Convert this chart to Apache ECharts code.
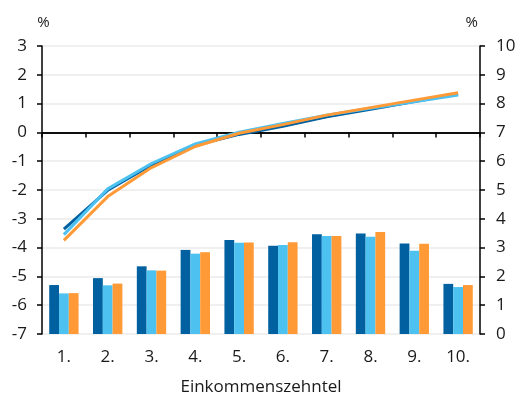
<!DOCTYPE html>
<html>
<head>
<meta charset="utf-8">
<script src="https://cdn.jsdelivr.net/npm/echarts@6/dist/echarts.min.js"></script>
<style>html,body{margin:0;padding:0;background:#fff}#c{width:521px;height:397px}</style>
</head>
<body>
<div id="c"></div>
<script>
const categories = ['1.','2.','3.','4.','5.','6.','7.','8.','9.','10.'];
// Bars (right axis, %)
const barsA = [1.70, 1.94, 2.35, 2.92, 3.26, 3.06, 3.46, 3.49, 3.14, 1.74];
const barsB = [1.41, 1.69, 2.21, 2.79, 3.17, 3.09, 3.40, 3.38, 2.89, 1.63];
const barsC = [1.42, 1.75, 2.20, 2.84, 3.18, 3.19, 3.40, 3.54, 3.13, 1.70];
// Lines (left axis, %)
const lineA = [-3.36, -2.01, -1.13, -0.45, -0.07, 0.21, 0.54, 0.80, 1.07, 1.34];
const lineB = [-3.55, -1.96, -1.08, -0.40, 0.01, 0.31, 0.60, 0.84, 1.06, 1.30];
const lineC = [-3.75, -2.23, -1.22, -0.49, -0.03, 0.27, 0.60, 0.86, 1.12, 1.38];
const leftTicks = {min: -7, max: 3, interval: 1};
const rightTicks = {min: 0, max: 10, interval: 1};

const colors = ['#0060A0', '#4DC1F0', '#FF9A36'];
const font = 'Open Sans';
const txt = '#1a1a1a';
const chart = echarts.init(document.getElementById('c'));
const barSeries = [barsA, barsB, barsC].map((d, i) => ({
  type: 'bar', yAxisIndex: 1, data: d, barGap: '0%', barCategoryGap: '33%',
  itemStyle: {color: colors[i]}, z: 2
}));
const lineSeries = [lineA, lineB, lineC].map((d, i) => ({
  type: 'line', yAxisIndex: 0, data: d, symbol: 'none',
  lineStyle: {color: colors[i], width: 3}, z: 5 + i
}));
lineSeries[0].markLine = {
  silent: true, symbol: 'none', label: {show: false},
  lineStyle: {color: '#000', width: 1.5, type: 'solid'},
  data: [{yAxis: 0}]
};
chart.setOption({
  animation: false,
  grid: {left: 42, right: 41, top: 46, bottom: 63, containLabel: false, outerBoundsMode: 'none'},
  xAxis: {
    type: 'category', data: categories,
    axisLine: {lineStyle: {color: '#000', width: 1.5}},
    axisTick: {show: true, length: 5, lineStyle: {color: '#000', width: 1.5}},
    axisLabel: {color: txt, fontSize: 17, fontFamily: font, margin: 15},
    name: 'Einkommenszehntel', nameLocation: 'middle', nameGap: 45,
    nameTextStyle: {color: txt, fontSize: 17, fontFamily: font}
  },
  yAxis: [
    {
      type: 'value', position: 'left', ...leftTicks,
      name: '%', nameLocation: 'end', nameGap: 16,
      nameTextStyle: {color: txt, fontSize: 15, fontFamily: font, align: 'center', padding: [0, 0, 0, 3]},
      axisLine: {show: true, lineStyle: {color: '#000', width: 1.5}},
      axisTick: {show: true, length: 5, lineStyle: {color: '#000', width: 1.5}},
      axisLabel: {color: txt, fontSize: 17, fontFamily: font, margin: 15},
      splitLine: {show: true, lineStyle: {color: '#ebebeb', width: 1.5}}
    },
    {
      type: 'value', position: 'right', ...rightTicks,
      name: '%', nameLocation: 'end', nameGap: 16,
      nameTextStyle: {color: txt, fontSize: 15, fontFamily: font, align: 'right', padding: [0, 2, 0, 0]},
      axisLine: {show: true, lineStyle: {color: '#000', width: 1.5}},
      axisTick: {show: true, length: 5, lineStyle: {color: '#000', width: 1.5}},
      axisLabel: {color: txt, fontSize: 17, fontFamily: font, margin: 16},
      splitLine: {show: false}
    }
  ],
  series: [...barSeries, ...lineSeries]
});
</script>
</body>
</html>
